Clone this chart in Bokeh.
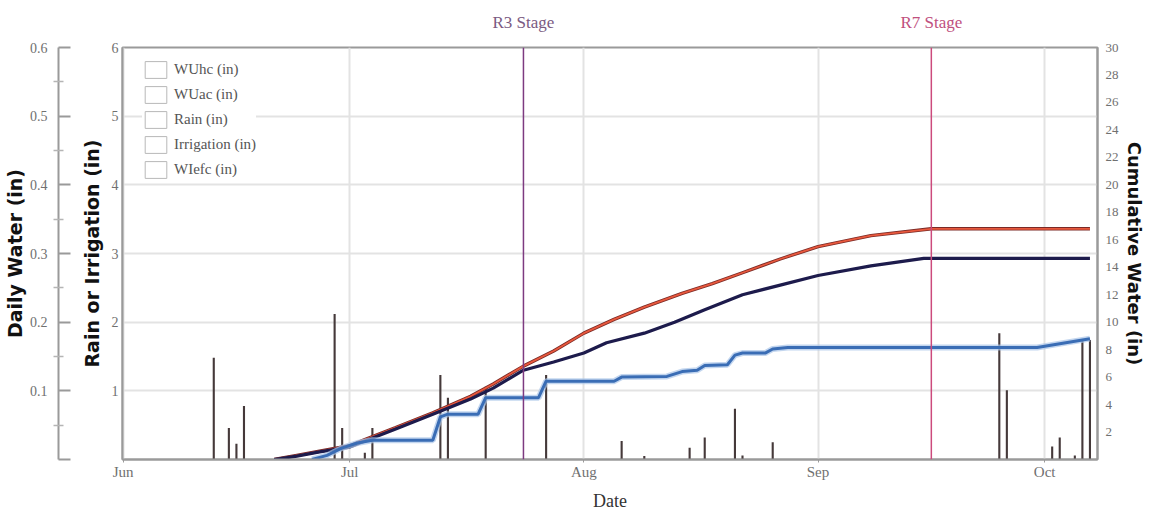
from datetime import datetime
from bokeh.plotting import figure
from bokeh.models import (Range1d, LinearAxis, FixedTicker, MonthsTicker,
                          DatetimeTickFormatter, Span, Label, Legend, LegendItem)
from bokeh.embed import file_html
from bokeh.resources import INLINE

YEAR = 2013


def d(s):
    m, dd = s.split("-")
    return datetime(YEAR, int(m), int(dd))


def ms(dt):
    return (dt - datetime(1970, 1, 1)).total_seconds() * 1000.0


# ---------------- data ----------------
rain_dates = ["06-13", "06-15", "06-16", "06-17", "06-29", "06-30", "07-03", "07-04",
              "07-13", "07-14", "08-06", "08-09", "08-15", "08-17", "08-21", "08-22",
              "08-26", "09-25", "09-26", "10-02", "10-03", "10-05", "10-06", "10-07"]
rain_in = [1.48, 0.46, 0.23, 0.78, 2.12, 0.46, 0.10, 0.46,
           1.23, 0.90, 0.27, 0.05, 0.17, 0.32, 0.74, 0.06,
           0.25, 1.84, 1.01, 0.19, 0.32, 0.06, 1.74, 1.74]

irrig_dates = ["07-19", "07-27"]
irrig_in = [1.06, 1.23]

wuhc_dates = ["06-21", "06-24", "06-27", "07-01", "07-03", "07-07", "07-12", "07-17",
              "07-20", "07-24", "07-28", "08-01", "08-05", "08-09", "08-14", "08-18",
              "08-22", "08-27", "09-01", "09-08", "09-16", "10-07"]
wuhc_in = [0.0, 0.3, 0.6, 1.0, 1.45, 2.3, 3.4, 4.6,
           5.5, 6.8, 7.9, 9.2, 10.2, 11.1, 12.1, 12.8,
           13.6, 14.6, 15.5, 16.3, 16.8, 16.8]

wuac_dates = ["06-21", "06-24", "06-27", "07-01", "07-03", "07-07", "07-12", "07-17",
              "07-20", "07-24", "07-28", "08-01", "08-04", "08-09", "08-13", "08-17",
              "08-22", "08-27", "09-01", "09-08", "09-15", "10-07"]
wuac_in = [0.0, 0.25, 0.55, 0.9, 1.35, 2.2, 3.3, 4.4,
           5.2, 6.5, 7.1, 7.75, 8.5, 9.2, 10.0, 10.9,
           12.0, 12.7, 13.4, 14.1, 14.65, 14.65]

wiefc_dates = ["06-26", "06-28", "06-30", "07-02", "07-04", "07-12", "07-13", "07-14",
               "07-18", "07-19", "07-26", "07-27", "08-05", "08-06", "08-12", "08-14",
               "08-16", "08-17", "08-20", "08-21", "08-22", "08-25", "08-26", "08-28",
               "09-30", "10-07"]
wiefc_in = [0.0, 0.3, 0.85, 1.2, 1.4, 1.4, 3.1, 3.3,
            3.3, 4.5, 4.5, 5.7, 5.7, 6.0, 6.05, 6.4,
            6.5, 6.85, 6.9, 7.6, 7.75, 7.75, 8.05, 8.15,
            8.15, 8.8]

stage_names = ["R3 Stage", "R7 Stage"]
stage_dates = ["07-24", "09-16"]
stage_colors = ["#7d3a80", "#cc4a7c"]
stage_text_colors = ["#7a5a82", "#c0507e"]

legend_labels = ["WUhc (in)", "WUac (in)", "Rain (in)", "Irrigation (in)", "WIefc (in)"]

rain_ticks = [0, 1, 2, 3, 4, 5, 6]
daily_ticks = [0, 0.1, 0.2, 0.3, 0.4, 0.5, 0.6]
daily_minor = [0.05, 0.15, 0.25, 0.35, 0.45, 0.55]
cum_ticks = [2, 4, 6, 8, 10, 12, 14, 16, 18, 20, 22, 24, 26, 28, 30]

# ---------------- figure ----------------
SERIF = "Liberation Serif"
TITLE_FONT = "DejaVu Sans"
TICK_COL = "#707070"
AX_COL = "#9a9a9a"

p = figure(width=1148, height=513, x_axis_type="datetime",
           x_range=Range1d(ms(datetime(YEAR, 5, 31, 22)), ms(datetime(YEAR, 10, 8))),
           y_range=Range1d(0, 6),
           output_backend="svg", toolbar_location=None,
           min_border_left=118, min_border_right=51, min_border_top=47, min_border_bottom=54)
p.extra_y_ranges = {"daily": Range1d(0, 0.6), "cum": Range1d(0, 30)}
p.outline_line_color = AX_COL
p.outline_line_width = 2
p.background_fill_color = "white"
p.border_fill_color = "white"

# x axis
xa = p.xaxis[0]
xa.ticker = MonthsTicker(months=list(range(12)))
xa.formatter = DatetimeTickFormatter(months="%b", days="%b", hours="%b")
xa.axis_label = "Date"
xa.axis_label_text_font = SERIF
xa.axis_label_text_font_style = "normal"
xa.axis_label_text_font_size = "18px"
xa.axis_label_text_color = "#333333"
xa.axis_label_standoff = 8
xa.major_label_text_font = SERIF
xa.major_label_text_font_size = "15px"
xa.major_label_text_color = TICK_COL
xa.major_label_standoff = 1
xa.major_tick_out = 3
xa.major_tick_in = 0
xa.major_tick_line_color = AX_COL
xa.minor_tick_line_color = None
xa.axis_line_color = AX_COL
xa.axis_line_width = 2

# left rain / irrigation axis (default)
ya = p.yaxis[0]
ya.ticker = FixedTicker(ticks=rain_ticks)
ya.major_label_overrides = {0: ""}
ya.axis_label = "Rain or Irrigation (in)"
ya.axis_label_text_font = TITLE_FONT
ya.axis_label_text_font_style = "bold"
ya.axis_label_text_font_size = "19px"
ya.axis_label_text_color = "#111111"
ya.axis_label_standoff = 6
ya.major_label_text_font = SERIF
ya.major_label_text_font_size = "14px"
ya.major_label_text_color = TICK_COL
ya.major_label_standoff = 4
ya.major_tick_out = 0
ya.major_tick_in = 0
ya.minor_tick_line_color = None
ya.axis_line_color = AX_COL
ya.axis_line_width = 2

# spacer between the two left axes (invisible label that only takes room)
spacer = LinearAxis(ticker=FixedTicker(ticks=[]), axis_label="|",
                    axis_label_text_color="white", axis_label_text_font_size="14px",
                    axis_label_standoff=0, major_tick_out=0, major_tick_in=0,
                    major_label_standoff=0, axis_line_color=None,
                    major_tick_line_color=None, minor_tick_line_color=None)
p.add_layout(spacer, "left")

# daily water axis
da = LinearAxis(y_range_name="daily",
                ticker=FixedTicker(ticks=daily_ticks, minor_ticks=daily_minor))
da.major_label_overrides = {0: ""}
da.axis_label = "Daily Water (in)"
da.axis_label_text_font = TITLE_FONT
da.axis_label_text_font_style = "bold"
da.axis_label_text_font_size = "19px"
da.axis_label_text_color = "#111111"
da.axis_label_standoff = 1
da.major_label_text_font = SERIF
da.major_label_text_font_size = "14px"
da.major_label_text_color = TICK_COL
da.major_label_standoff = 6
da.major_tick_out = 0
da.major_tick_in = 12
da.minor_tick_in = 5
da.minor_tick_out = 5
da.major_tick_line_color = AX_COL
da.major_tick_line_width = 2
da.minor_tick_line_color = "#b5b5b5"
da.minor_tick_line_width = 1.5
da.axis_line_color = AX_COL
da.axis_line_width = 2
p.add_layout(da, "left")

# right cumulative axis
ra = LinearAxis(y_range_name="cum", ticker=FixedTicker(ticks=cum_ticks))
ra.axis_label = "Cumulative Water (in)"
ra.axis_label_text_font = TITLE_FONT
ra.axis_label_text_font_style = "bold"
ra.axis_label_text_font_size = "18px"
ra.axis_label_text_color = "#111111"
ra.axis_label_standoff = 2
ra.major_label_text_font = SERIF
ra.major_label_text_font_size = "13px"
ra.major_label_text_color = TICK_COL
ra.major_label_standoff = 8
ra.major_tick_out = 0
ra.major_tick_in = 0
ra.minor_tick_line_color = None
ra.axis_line_color = AX_COL
ra.axis_line_width = 2
p.add_layout(ra, "right")

# grid
p.xgrid.grid_line_color = "#e3e3e3"
p.xgrid.grid_line_width = 2
p.ygrid.grid_line_color = "#e3e3e3"
p.ygrid.grid_line_width = 2

DAY = 86400000.0

# bars
p.vbar(x=[d(s) for s in rain_dates], top=rain_in, width=0.28 * DAY, bottom=0,
       fill_color="#45393a", line_color=None)
p.vbar(x=[d(s) for s in irrig_dates], top=irrig_in, width=0.28 * DAY, bottom=0,
       fill_color="#45393a", line_color=None)

# stage lines and their labels above the frame
# (each label added "above" gets its own stacked slot; offsets keep them on one row)
label_offsets = [25, 6]
for nm, sd, col, tcol, off in zip(stage_names, stage_dates, stage_colors,
                                  stage_text_colors, label_offsets):
    p.add_layout(Span(location=ms(d(sd)), dimension="height", line_color=col,
                      line_width=1.5))
    p.add_layout(Label(x=ms(d(sd)), y=off, y_units="screen", text=nm, text_align="center",
                       text_baseline="middle", text_font=SERIF, text_font_size="17px",
                       text_color=tcol), "above")

# cumulative lines
wx = [d(s) for s in wuhc_dates]
p.line(wx, wuhc_in, y_range_name="cum", line_color="#7a2a26", line_width=3.4)
p.line(wx, wuhc_in, y_range_name="cum", line_color="#e8583d", line_width=1.8)
ax_ = [d(s) for s in wuac_dates]
p.line(ax_, wuac_in, y_range_name="cum", line_color="#1d1b4c", line_width=3.2)
bx = [d(s) for s in wiefc_dates]
p.line(bx, wiefc_in, y_range_name="cum", line_color="#a9c4e8", line_width=6, line_alpha=0.7)
p.line(bx, wiefc_in, y_range_name="cum", line_color="#3a6db5", line_width=3)

# legend with empty boxes
dummy_x = [datetime(YEAR, 5, 1)]
items = []
for lab in legend_labels:
    r = p.rect(x=dummy_x, y=[1], width=1, height=1, fill_color=None,
               line_color="#b8b8b8", line_width=1)
    items.append(LegendItem(label=lab, renderers=[r]))
leg = Legend(items=items, location=(20, 279), orientation="vertical",
             glyph_width=27, glyph_height=21, label_height=21, spacing=4, padding=6,
             label_standoff=5, label_text_font=SERIF, label_text_font_size="15px",
             label_text_color="#555555", border_line_color=None,
             background_fill_color="white", background_fill_alpha=1.0, margin=0)
p.add_layout(leg, "center")

open("out.html", "w").write(file_html(p, INLINE))
